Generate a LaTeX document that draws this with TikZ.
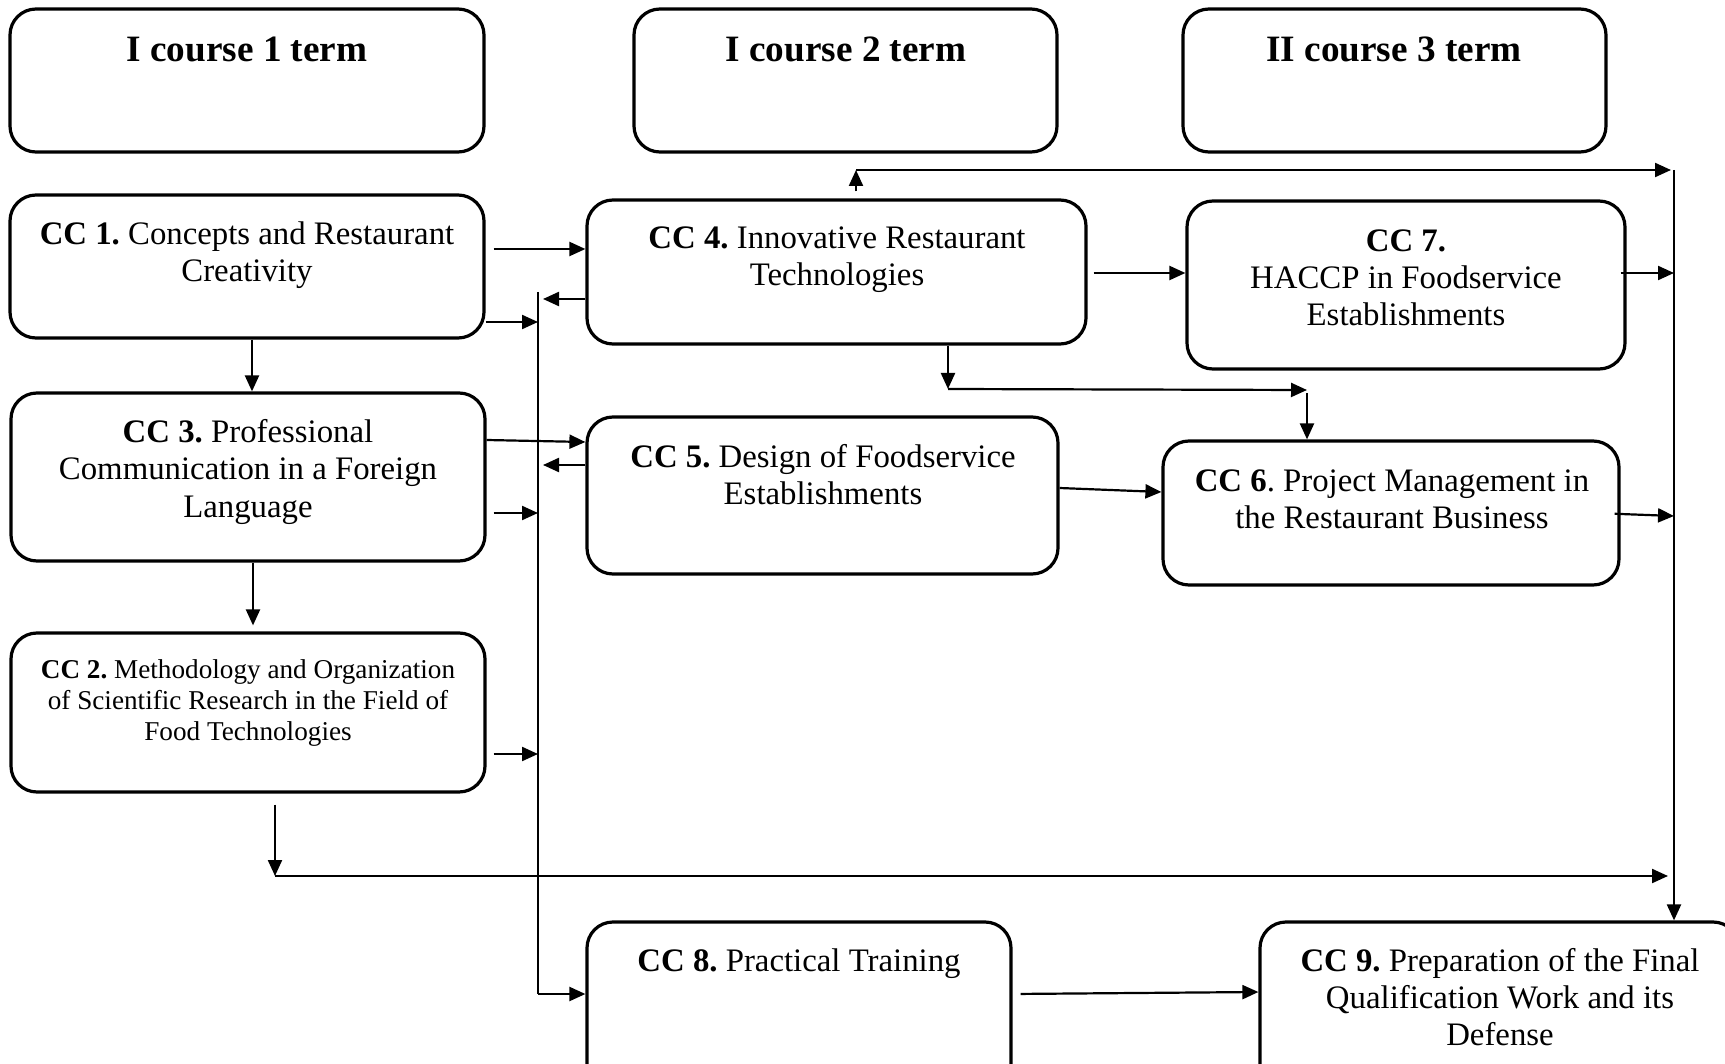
\documentclass[tikz,border=0pt]{standalone}
\usepackage{fontspec}
\setmainfont{Liberation Serif}
\usetikzlibrary{arrows.meta,fit}
\frenchspacing
\newcommand{\mylines}[1]{\begin{tabular}[t]{@{}c@{}}#1\end{tabular}}
\begin{document}
\begin{tikzpicture}[x=0.5pt,y=-0.5pt,
  box/.style={draw, line width=1.6pt, rounded corners=13pt, inner sep=0pt},
  txt/.style={inner sep=0pt, anchor=base, font=\fontsize{16.4}{18.5}\selectfont},
  txtsmall/.style={inner sep=0pt, anchor=base, font=\fontsize{13.6}{15.5}\selectfont},
  hdr/.style={inner sep=0pt, anchor=base, font=\fontsize{18.6}{21}\selectfont\bfseries},
  ln/.style={line width=1.1pt},
  arr/.style={line width=1.1pt, -{Triangle[length=8pt,width=7pt]}}]
\useasboundingbox (0,0) rectangle (1725,1064);
\fill[white] (0,0) rectangle (1725,1064);
\clip (0,0) rectangle (1725,1064);

% header boxes
\node[box, fit={(10,9)(484,152)}] (h1) {};
\node[box, fit={(634,9)(1057,152)}] (h2) {};
\node[box, fit={(1183,9)(1606,152)}] (h3) {};
\node[hdr] (h1t) at (247,62) {I course 1 term};
\node[hdr] (h2t) at (846,62) {I course 2 term};
\node[hdr] (h3t) at (1394,62) {II course 3 term};

% course boxes
\node[box, fit={(10,195)(484,338)}] (cc1) {};
\node[box, fit={(11,393)(485,561)}] (cc3) {};
\node[box, fit={(11,633)(485,792)}] (cc2) {};
\node[box, fit={(587,200)(1086,344)}] (cc4) {};
\node[box, fit={(587,417)(1058,574)}] (cc5) {};
\node[box, fit={(1187,201)(1625,369)}] (cc7) {};
\node[box, fit={(1163,441)(1619,585)}] (cc6) {};
\node[box, fit={(587,922)(1011,1090)}] (cc8) {};
\node[box, fit={(1260,922)(1739,1090)}] (cc9) {};

\node[txt] (cc1t) at (247,245) {\mylines{\textbf{CC 1.} Concepts and Restaurant\\Creativity}};
\node[txt] (cc3t) at (248,443) {\mylines{\textbf{CC 3.} Professional\\Communication in a Foreign\\Language}};
\node[txtsmall] (cc2t) at (248,678) {\mylines{\textbf{CC 2.} Methodology and Organization\\of Scientific Research in the Field of\\Food Technologies}};
\node[txt] (cc4t) at (837,249) {\mylines{\textbf{CC 4.} Innovative Restaurant\\Technologies}};
\node[txt] (cc5t) at (823,467) {\mylines{\textbf{CC 5.} Design of Foodservice\\Establishments}};
\node[txt] (cc7t) at (1406,252) {\mylines{\textbf{CC 7.}\\HACCP in Foodservice\\Establishments}};
\node[txt] (cc6t) at (1392,491) {\mylines{\textbf{CC 6}. Project Management in\\the Restaurant Business}};
\node[txt] (cc8t) at (799,971) {\mylines{\textbf{CC 8.} Practical Training}};
\node[txt] (cc9t) at (1500,971) {\mylines{\textbf{CC 9.} Preparation of the Final\\Qualification Work and its\\Defense}};

% free coordinates
\coordinate (busTop) at (538,292);
\coordinate (busBot) at (538,994);
\coordinate (rTop) at (1674,170);
\coordinate (cc4up) at (856,170);
\coordinate (cc4dn) at (948,389);
\coordinate (cc6in) at (1307,390);
\coordinate (cc2dn) at (275,876);

% left bus
\draw[ln] (busTop) -- (busBot);
\draw[arr] (busBot) -- (cc8.west |- busBot);
\draw[arr, shorten <=4pt] (cc1.east |- 0,249) -- (cc4.west |- 0,249);
\draw[arr] (cc1.east |- 0,322) -- (busTop |- 0,322);
\draw[arr, shorten >=2.5pt] (cc4.west |- 0,299) -- (busTop |- 0,299);
\draw[arr] (cc1.south -| 252,0) -- (cc3.north -| 252,0);
\draw[arr] (cc3.east |- 0,440) -- (cc4.west |- 0,442);
\draw[arr, shorten >=2.5pt] (cc5.west |- 0,465) -- (busTop |- 0,465);
\draw[arr, shorten <=3.5pt] (cc3.east |- 0,513) -- (busTop |- 0,513);
\draw[arr, shorten >=3pt] (cc3.south -| 253,0) -- (cc2.north -| 253,0);
\draw[arr, shorten <=3.5pt] (cc2.east |- 0,754) -- (busTop |- 0,754);

% CC2 down and long arrow right
\draw[arr, shorten <=5.5pt] (cc2.south -| cc2dn) -- (cc2dn);
\draw[arr, shorten >=3pt] (cc2dn) -- (rTop |- cc2dn);

% CC4 up and top line
\draw[arr, shorten <=3.5pt] (cc4.north -| cc4up) -- (cc4up);
\draw[arr, shorten >=1.5pt] (cc4up) -- (rTop);
\draw[arr] (rTop) -- (cc9.north -| rTop);

% right side
\draw[arr, shorten <=3pt] (cc4.east |- 0,273) -- (cc7.west |- 0,273);
\draw[arr, shorten <=-3pt] (cc7.east |- 0,273) -- (rTop |- 0,273);
\draw[arr, shorten <=-3pt] (cc6.east |- 0,514) -- (rTop |- 0,516);
\draw[arr] (cc4.south -| cc4dn) -- (cc4dn);
\draw[arr] (cc4dn) -- (cc6in);
\draw[arr, shorten <=1.5pt] (cc6in) -- (cc6.north -| cc6in);
\draw[arr] (cc5.east |- 0,488) -- (cc6.west |- 0,492);

% bottom
\draw[arr, shorten <=4pt] (cc8.east |- 0,994) -- (cc9.west |- 0,992);
\end{tikzpicture}
\end{document}
